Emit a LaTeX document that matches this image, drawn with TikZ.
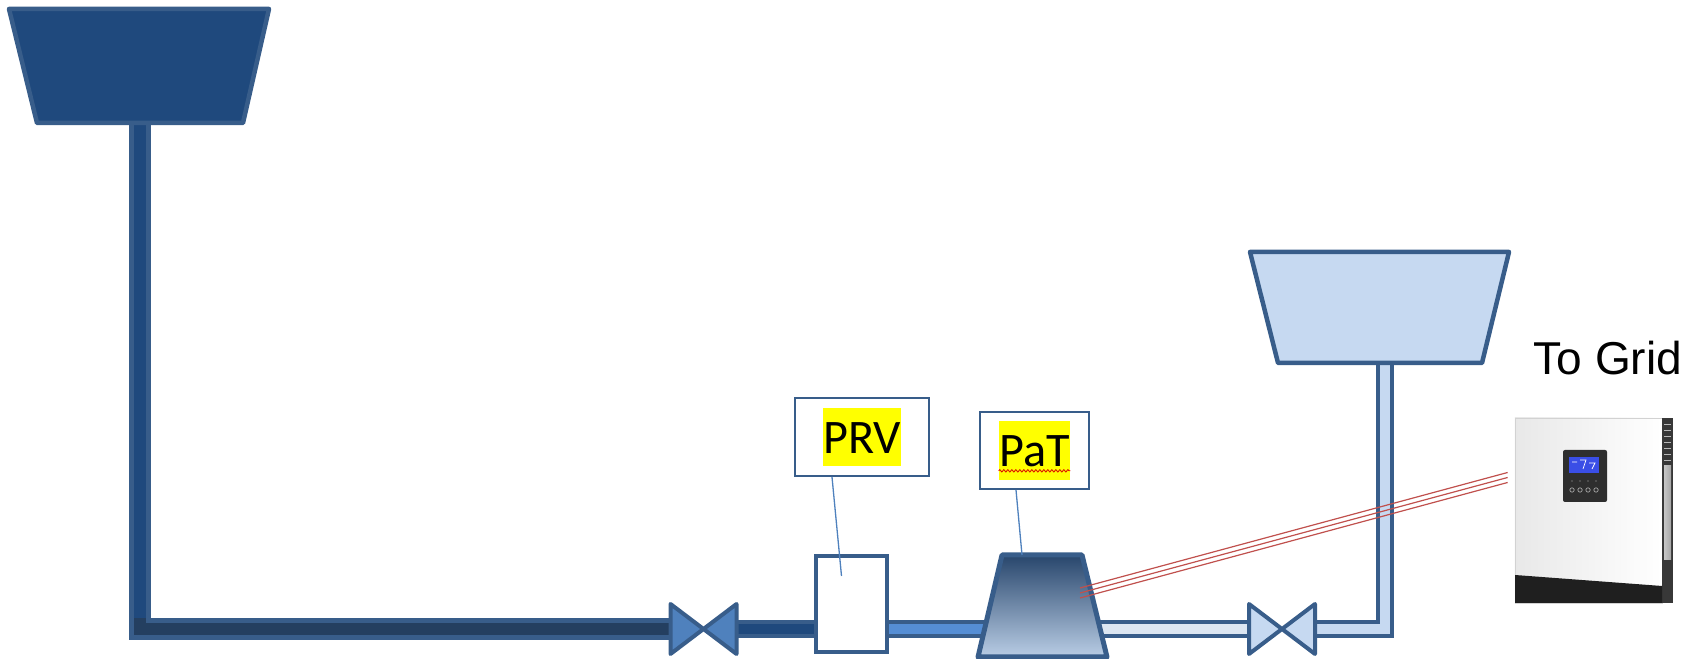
\documentclass[tikz,border=0pt]{standalone}
\usepackage{fontspec}
\usetikzlibrary{arrows.meta,positioning,calc,backgrounds,decorations.pathmorphing}
\newfontfamily\gridfont{Liberation Sans}
\newfontfamily\tagfont{Carlito}
\definecolor{pipeline}{RGB}{56,93,138}
\definecolor{navyfill}{RGB}{31,73,125}
\definecolor{deepnavy}{RGB}{36,63,96}
\definecolor{midblue}{RGB}{79,129,189}
\definecolor{skyblue}{RGB}{85,142,213}
\definecolor{paleblue}{RGB}{198,217,241}
\definecolor{mistblue}{RGB}{220,230,242}
\definecolor{pattop}{RGB}{40,70,108}
\definecolor{patbottom}{RGB}{185,205,229}
\definecolor{wirered}{RGB}{192,80,77}
\definecolor{hiyellow}{RGB}{255,255,0}
\definecolor{screenblue}{RGB}{58,78,230}
\tikzset{
  tank/.style={draw=pipeline,line width=0.045cm,fill=#1,line join=round},
  tank/.default=navyfill,
  pipe/.style={draw=pipeline,line width=0.05cm,double=#1,double distance=0.12cm},
  thin pipe/.style={draw=pipeline,line width=0.04cm,double=#1,double distance=0.095cm},
  box/.style={draw=pipeline,line width=0.04cm,fill=white,inner sep=0pt},
  tag box/.style={draw=pipeline,line width=0.017cm,fill=white,inner sep=0pt},
  hilite/.style={fill=hiyellow,inner sep=0pt,font=\tagfont\fontsize{13.7}{16}\selectfont,
    text height=13pt,text depth=3.7pt},
  leader/.style={draw=midblue,line width=0.013cm},
  wire/.style={draw=wirered,line width=0.012cm},
  squiggle/.style={draw=red!85!black,line width=0.008cm,decorate,
    decoration={snake,amplitude=0.012cm,segment length=0.04cm}},
  % pictograms
  pics/valve/.style={code={
    \draw[pipeline,line width=0.04cm,fill=#1,line join=round]
      (-33,-25) -- (33,25) -- (33,-25) -- (-33,25) -- cycle;
    \coordinate (-w) at (-33,0);
    \coordinate (-e) at (33,0);
  }},
  pics/valve/.default=midblue,
}
\begin{document}
\begin{tikzpicture}[x=0.01cm,y=-0.01cm]
  \useasboundingbox (0,0) rectangle (1694,659);
  % reservoirs
  \draw[tank=navyfill] (9,9) -- (269,9) -- (243,123) -- (37,123) -- cycle;
  \coordinate (upper) at (140,123);
  \draw[tank=paleblue] (1250,252) -- (1509,252) -- (1482,363) -- (1278,363) -- cycle;
  \coordinate (lower) at (1385,363);
  % valves, PRV and PaT
  \pic (v1) at (703.5,629) {valve};
  \pic (v2) at (1282,629) {valve=paleblue};
  \node[box,minimum width=0.71cm,minimum height=0.96cm] (prv) at (851.5,604) {};
  \draw[pipeline,line width=0.05cm,line join=round,top color=pattop,bottom color=patbottom]
    (1002,555) -- (1082,555) -- (1107,657) -- (978,657) -- cycle;
  \coordinate (pat) at (1042,606);
  % tags
  \node[tag box,minimum width=1.34cm,minimum height=0.78cm] (prvtag) at (862,437) {};
  \node[hilite] (prvtext) at (prvtag) {PRV};
  \node[tag box,minimum width=1.09cm,minimum height=0.77cm] (pattag) at (1034.5,450.5) {};
  \node[hilite] (pattext) at (pattag) {PaT};
  \draw[squiggle] ([yshift=-0.04cm]pattext.base west) -- ([yshift=-0.04cm]pattext.base east);
  \draw[leader] ([xshift=-0.3cm]prvtag.south) -- ($(prv)+(-10,-28)$);
  \draw[leader] ([xshift=-0.185cm]pattag.south) -- ($(pat)+(-20,-51)$);
  % inverter
  \node[draw=gray!35,line width=0.2pt,inner sep=0pt,left color=gray!18,right color=white,
    minimum width=1.47cm,minimum height=1.85cm] (inverter) at (1588.5,510.5) {};
  \fill[black!78] (1662,418) rectangle (1673,603);
  \fill[left color=gray!45,right color=gray!70] (1664,466) rectangle (1671,560);
  \foreach \y in {424,430,...,460} \draw[gray!55,line width=0.2pt] (1664,\y) -- (1671,\y);
  \fill[black!88] (1515,575) -- (1662,586) -- (1662,603) -- (1515,603) -- cycle;
  \fill[black!82,rounded corners=0.02cm] (1563,450) rectangle (1607,502);
  \fill[screenblue] (1569,457) rectangle (1599,473);
  \draw[white,line width=0.2pt] (1572,462) -- (1577,462) (1580,460) -- (1586,460) -- (1583,469)
    (1589,463) -- (1595,463) -- (1592,469);
  \foreach \x in {1572,1580,1588,1596} {
    \draw[gray!70,line width=0.2pt] (\x,490) circle (2.2);
    \fill[gray!60] (\x,481) circle (0.7);
  }
  \node[anchor=base west,inner sep=0pt,font=\gridfont\fontsize{13.1}{15}\selectfont] (grid) at (1533,375) {To Grid};
  % cable to the inverter
  \foreach \d in {-5,0,5}
    \draw[wire] ($(pat)+(38,-13+\d)$) -- ($(inverter.west)+(-7,-33+\d)$);
  % pipes
  \begin{scope}[on background layer]
    \draw[pipe=deepnavy] (upper) |- (v1-w);
    \draw[line width=0.12cm,navyfill] (upper) -- ($(upper |- v1-w)+(0,-11)$);
    \draw[thin pipe=navyfill] (v1-e) -- (prv.west |- v1-e);
    \draw[thin pipe=skyblue] (prv.east |- v1-e) -- (pat |- v1-e);
    \draw[thin pipe=mistblue] (pat |- v2-w) -- (v2-w);
    \draw[thin pipe=paleblue] (v2-e) -| (lower);
  \end{scope}
\end{tikzpicture}
\end{document}
